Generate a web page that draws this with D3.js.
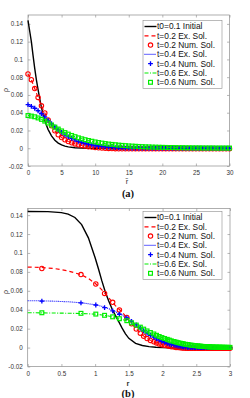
<!DOCTYPE html>
<html><head><meta charset="utf-8">
<script src="https://cdn.jsdelivr.net/npm/d3@7"></script>
<style>body{margin:0;background:#fff}svg{display:block}</style>
</head><body>
<script>
// ---------- DATA ----------
// numerical grid (panel a abscissa r~) and the same nodes in r (panel b)
const rTilde = [0,0.5,1,1.5,2,2.5,3,3.5,4,4.5,5,5.5,6,6.5,7,7.5,8,8.5,9,9.5,10,10.5,11,11.5,12,12.5,13,13.5,14,14.5,15,15.5,16,16.5,17,17.5,18,18.5,19,19.5,20,20.5,21,21.5,22,22.5,23,23.5,24,24.5,25,25.5,26,26.5,27,27.5,28,28.5,29,29.5,30];
const rNodes = [0.21,0.79,1.01,1.14,1.26,1.36,1.47,1.54,1.61,1.67,1.72,1.77,1.82,1.87,1.91,1.95,1.99,2.03,2.07,2.10,2.13,2.17,2.20,2.23,2.26,2.29,2.31,2.34,2.37,2.39,2.42,2.44,2.47,2.49,2.52,2.54,2.56,2.58,2.60,2.62,2.65,2.67,2.69,2.70,2.72,2.74,2.76,2.78,2.80,2.82,2.84,2.85,2.87,2.89,2.90,2.92,2.94,2.95,2.97,2.98,3.00];
const solT02 = [0.0836,0.0772,0.0672,0.0572,0.0478,0.0398,0.0318,0.0252,0.0196,0.0152,0.0120,0.0095,0.0076,0.0061,0.0049,0.0039,0.0031,0.0024,0.0018,0.0013,0.0009,0.0005,0.0002,0.0000,-0.0002,-0.0004,-0.0005,-0.0006,
  -0.0007,-0.0007,-0.0007,-0.0007,-0.0007,-0.0007,-0.0007,-0.0007,-0.0007,-0.0007,-0.0007,-0.0007,-0.0007,-0.0007,-0.0007,-0.0007,-0.0007,
  -0.0006,-0.0006,-0.0006,-0.0006,-0.0006,-0.0006,-0.0006,-0.0006,-0.0006,-0.0006,-0.0006,-0.0006,-0.0006,-0.0006,-0.0006,-0.0006];
const solT04 = [0.0490,0.0472,0.0450,0.0422,0.0388,0.0352,0.0314,0.0276,0.0240,0.0207,0.0178,0.0152,0.0129,0.0110,0.0093,0.0078,0.0066,0.0055,0.0046,0.0038,0.0031,0.0025,0.0020,0.0016,0.0012,0.0009,0.0007,0.0005,0.0003,0.0002,0.0001,
  0,0,0,0,0,0,0,0,0,0,0,0,0,0,0,0,0,0,0,0,0,0,0,0,0,0,0,0,0,0];
const solT06 = [0.0368,0.0362,0.0354,0.0341,0.0325,0.0305,0.0284,0.0262,0.0238,0.0216,
  0.0195,0.0176,0.0159,0.0144,0.0130,0.0117,0.0106,0.0096,0.0087,0.0079,
  0.0071,0.0064,0.0058,0.0052,0.0047,0.0043,0.0039,0.0035,0.0032,0.0029,
  0.0026,0.0024,0.0022,0.0020,0.0018,0.0016,0.0015,0.0013,0.0012,0.0011,
  0.0010,0.0009,0.0008,0.0008,0.0007,0.0006,0.0006,0.0005,0.0005,0.0004,
  0.0004,0.0004,0.0003,0.0003,0.0003,0.0003,0.0002,0.0002,0.0002,0.0002,0.0002];
// initial profile t0=0.1
const initTopX = [0,0.25,0.5,0.75,1,1.25,1.5,1.75,2,2.25,2.5,2.75,3,3.5,4,4.5,5,5.5,6,7,8,9,10,12,15,20,25];
const initTopV = [0.1440,0.1320,0.1200,0.1045,0.0900,0.0770,0.0660,0.0555,0.0460,0.0380,0.0310,0.0258,0.0210,0.0140,0.0090,0.0058,0.0037,0.0024,0.0015,0.0006,0.0002,0.0000,-0.0002,-0.0003,-0.0003,-0.0003,-0.0003];
const initBotX = [0,0.3,0.5,0.6,0.7,0.8,0.9,1.0,1.05,1.1,1.15,1.2,1.25,1.3,1.35,1.4,1.45,1.5,1.6,1.7,1.8,1.9,2.0,2.2,2.5,2.83];
const initBotV = [0.1438,0.1437,0.1426,0.1410,0.1375,0.1300,0.1160,0.0950,0.0830,0.0705,0.0590,0.0495,0.0410,0.0340,0.0275,0.0205,0.0145,0.0098,0.0045,0.0022,0.0010,0.0004,0.0000,-0.0004,-0.0005,-0.0005];
// exact solutions, panel b
const exBotX   = [0,0.2,0.4,0.6,0.8,0.9,1.0,1.1,1.2,1.3,1.4,1.5,1.6,1.7,1.8,1.9,2.0,2.2,2.4,2.6,2.8,3.0];
const exBotT02 = [0.0851,0.0847,0.0835,0.0810,0.0768,0.0730,0.0680,0.0610,0.0528,0.0443,0.0375,0.0290,0.0204,0.0132,0.0083,0.0052,0.0030,0.0002,-0.0006,-0.0007,-0.0006,-0.0006];
const exBotT04 = [0.0495,0.0494,0.0490,0.0484,0.0473,0.0463,0.0452,0.0436,0.0412,0.0380,0.0344,0.0305,0.0245,0.0185,0.0136,0.0097,0.0066,0.0025,0.0008,0.0002,0.0000,0.0000];
const exBotT06 = [0.0368,0.0367,0.0365,0.0363,0.0360,0.0357,0.0354,0.0345,0.0333,0.0318,0.0298,0.0275,0.0242,0.0203,0.0166,0.0133,0.0104,0.0058,0.0031,0.0018,0.0009,0.0002];

const xTicksTop = [0,5,10,15,20,25,30];
const xTickLabelsTop = ["0","5","10","15","20","25","30"];
const xTicksBot = [0,0.5,1,1.5,2,2.5,3];
const xTickLabelsBot = ["0","0.5","1","1.5","2","2.5","3"];
const yTicks = [-0.02,0,0.02,0.04,0.06,0.08,0.1,0.12,0.14];
const yTickLabels = ["-0.02","0","0.02","0.04","0.06","0.08","0.1","0.12","0.14"];
const legendLabels = ["t0=0.1 Initial","t=0.2 Ex. Sol.","t=0.2 Num. Sol.","t=0.4 Ex. Sol.","t=0.4 Num. Sol.","t=0.6 Ex. Sol.","t=0.6 Num. Sol."];

// ---------- DRAW ----------
const RED = "#ff0000", BLUE = "#0000ff", GREEN = "#00ee00";
const FONT = "'Liberation Sans', Arial, sans-serif";
const svg = d3.select("body").append("svg").attr("width",250).attr("height",398);

const styles = [
  {type:"line", color:"#000", width:1.4, dash:null},
  {type:"line", color:RED, width:1.2, dash:"4,3"},
  {type:"circle", color:RED},
  {type:"line", color:BLUE, width:1.1, dash:"1,1"},
  {type:"plus", color:BLUE},
  {type:"line", color:GREEN, width:1.1, dash:"4,1.5,1,1.5"},
  {type:"square", color:GREEN}
];

function zip(xs, vs){ return xs.map((x,i)=>[x, vs[i]]); }

function drawMarker(g, type, color, cx, cy){
  if (type==="circle") {
    g.append("circle").attr("cx",cx).attr("cy",cy).attr("r",2.2)
      .attr("fill","none").attr("stroke",color).attr("stroke-width",1.1);
  } else if (type==="plus") {
    g.append("path").attr("d",`M${cx-2.4},${cy}H${cx+2.4}M${cx},${cy-2.4}V${cy+2.4}`)
      .attr("stroke",color).attr("stroke-width",1.3).attr("fill","none");
  } else if (type==="square") {
    g.append("rect").attr("x",cx-1.9).attr("y",cy-1.9).attr("width",3.8).attr("height",3.8)
      .attr("fill","none").attr("stroke",color).attr("stroke-width",1.2);
  }
}

function panel(o){
  const x = d3.scaleLinear().domain(o.xDomain).range(o.xRange);
  const y = d3.scaleLinear().domain(o.yDomain).range(o.yRange);
  const g = svg.append("g");
  const x0=o.xRange[0], x1=o.xRange[1], yb=o.yRange[0], yt=o.yRange[1];

  // axes
  const axB = d3.axisBottom(x).tickValues(o.xTicks).tickFormat((d,i)=>o.xLabels[i])
      .tickSizeInner(-2.5).tickSizeOuter(0).tickPadding(5);
  const axT = d3.axisTop(x).tickValues(o.xTicks).tickFormat("").tickSizeInner(-2.5).tickSizeOuter(0);
  const axL = d3.axisLeft(y).tickValues(yTicks).tickFormat((d,i)=>yTickLabels[i])
      .tickSizeInner(-2.5).tickSizeOuter(0).tickPadding(5);
  const axR = d3.axisRight(y).tickValues(yTicks).tickFormat("").tickSizeInner(-2.5).tickSizeOuter(0);
  const gB = g.append("g").attr("transform",`translate(0,${yb})`).call(axB);
  const gT = g.append("g").attr("transform",`translate(0,${yt})`).call(axT);
  const gL = g.append("g").attr("transform",`translate(${x0},0)`).call(axL);
  const gR = g.append("g").attr("transform",`translate(${x1},0)`).call(axR);
  [gB,gT,gL,gR].forEach(a=>{
    a.select(".domain").remove();
    a.selectAll("line").attr("stroke","#888").attr("stroke-width",0.6);
    a.selectAll("text").attr("fill","#333").style("font-family",FONT).style("font-size","6.3px");
  });
  g.append("rect").attr("x",x0).attr("y",yt).attr("width",x1-x0).attr("height",yb-yt)
    .attr("fill","none").attr("stroke","#8c8c8c").attr("stroke-width",0.7);

  const line = d3.line().x(d=>x(d[0])).y(d=>y(d[1]));
  const series = o.series;
  series.forEach((s,k)=>{
    const st = styles[k];
    if (st.type==="line") {
      g.append("path").attr("d",line(s)).attr("fill","none").attr("stroke",st.color)
        .attr("stroke-width",st.width).attr("stroke-dasharray",st.dash);
    } else {
      const mg = g.append("g");
      s.forEach(d=>drawMarker(mg, st.type, st.color, x(d[0]), y(d[1])));
    }
  });

  // legend
  const lg = g.append("g");
  const lx = o.legend[0], ly = o.legend[1];
  lg.append("rect").attr("x",lx).attr("y",ly).attr("width",79).attr("height",68)
    .attr("fill","#fff").attr("stroke","#8c8c8c").attr("stroke-width",0.6);
  legendLabels.forEach((lab,i)=>{
    const cy = ly + 6 + i*9.3;
    const st = styles[i];
    if (st.type==="line") {
      lg.append("line").attr("x1",lx+1.5).attr("x2",lx+13.5).attr("y1",cy).attr("y2",cy)
        .attr("stroke",st.color).attr("stroke-width",st.width).attr("stroke-dasharray",st.dash);
    } else {
      drawMarker(lg, st.type, st.color, lx+7.5, cy);
    }
    lg.append("text").attr("x",lx+14).attr("y",cy).attr("dy","0.35em")
      .style("font-family",FONT).style("font-size","8.4px").attr("fill","#111").text(lab);
  });

  // labels
  g.append("text").attr("transform",`translate(${o.yLab[0]},${o.yLab[1]}) rotate(-90)`)
    .attr("text-anchor","middle").attr("dy","0.35em").style("font-family",FONT).style("font-size","7px")
    .attr("fill","#333").text("ρ");
  g.append("text").attr("x",o.xLab[0]).attr("y",o.xLab[1]).attr("text-anchor","middle").attr("dy","0.35em")
    .style("font-family",FONT).style("font-size","7.5px").style("font-weight",o.xLabBold?"bold":"normal")
    .attr("fill","#333").text(o.xLabText);
  g.append("text").attr("x",o.tag[0]).attr("y",o.tag[1]).attr("text-anchor","middle").attr("dy","0.35em")
    .style("font-family","'Liberation Serif', 'Times New Roman', serif").style("font-size","10.5px")
    .style("font-weight","bold").attr("fill","#111").text(o.tagText);
}

panel({
  xDomain:[0,30], xRange:[28,229.5], yDomain:[-0.02,0.15], yRange:[166,15],
  xTicks:xTicksTop, xLabels:xTickLabelsTop,
  series:[zip(initTopX,initTopV), zip(rTilde,solT02), zip(rTilde,solT02), zip(rTilde,solT04), zip(rTilde,solT04), zip(rTilde,solT06), zip(rTilde,solT06)],
  legend:[143,20.5], yLab:[5.5,90], xLab:[127,181.5], xLabText:"r\u0303", xLabBold:false, tag:[128,193], tagText:"(a)"
});
panel({
  xDomain:[0,3], xRange:[27.7,230], yDomain:[-0.02,0.147], yRange:[366.5,208.5],
  xTicks:xTicksBot, xLabels:xTickLabelsBot,
  series:[zip(initBotX,initBotV), zip(exBotX,exBotT02), zip(rNodes,solT02), zip(exBotX,exBotT04), zip(rNodes,solT04), zip(exBotX,exBotT06), zip(rNodes,solT06)],
  legend:[143,211.5], yLab:[5.5,292], xLab:[128,383], xLabText:"r", xLabBold:true, tag:[128,393], tagText:"(b)"
});
</script>
</body></html>
